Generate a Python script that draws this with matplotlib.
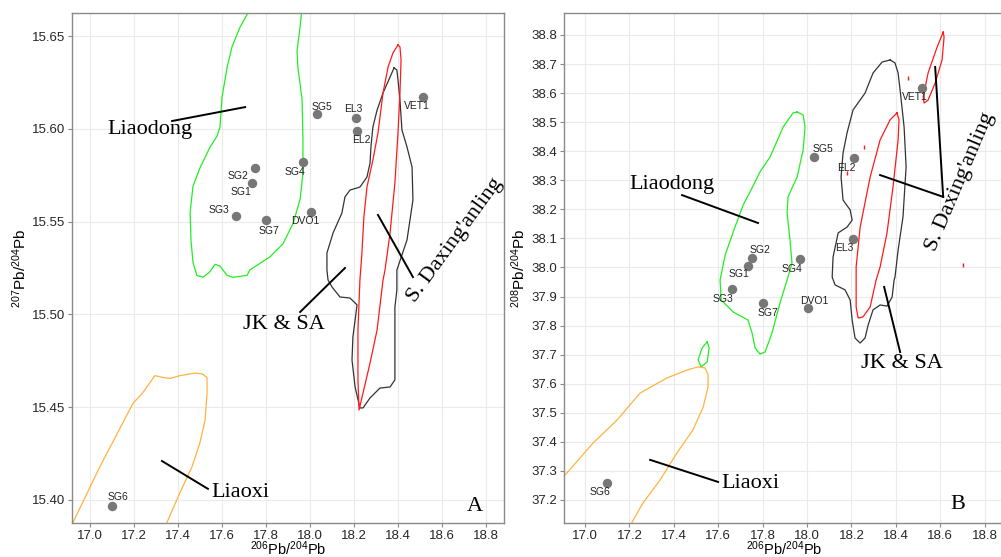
import numpy as np
import matplotlib
matplotlib.use("Agg")
import matplotlib.pyplot as plt

plt.rcParams['font.family'] = ['Liberation Sans', 'DejaVu Sans']
plt.rcParams['mathtext.fontset'] = 'custom'
plt.rcParams['mathtext.rm'] = 'Liberation Sans'
plt.rcParams['mathtext.it'] = 'Liberation Sans:italic'
plt.rcParams['mathtext.bf'] = 'Liberation Sans:bold'

# ---------------- sample data ----------------
samples = ['SG1', 'SG2', 'SG3', 'SG4', 'SG5', 'SG6', 'SG7', 'DVO1', 'EL2', 'EL3', 'VET1']
pb206_204 = [17.735, 17.750, 17.663, 17.968, 18.030, 17.100, 17.800, 18.003, 18.213, 18.207, 18.516]
pb207_204 = [15.571, 15.579, 15.553, 15.582, 15.608, 15.397, 15.551, 15.555, 15.599, 15.606, 15.617]
pb208_204 = [38.005, 38.033, 37.926, 38.029, 38.380, 37.258, 37.878, 37.861, 38.377, 38.098, 38.618]

# label offsets (points) for each sample, panel A and B
offA = {'SG1': (-8, -7), 'SG2': (-12, -6), 'SG3': (-12, 4), 'SG4': (-6, -7), 'SG5': (4, 5),
        'SG6': (4, 6), 'SG7': (2, -8), 'DVO1': (-4, -6.5), 'EL2': (3, -7), 'EL3': (-1.5, 6),
        'VET1': (-5, -6.5)}
offB = {'SG1': (-7, -6), 'SG2': (6, 6), 'SG3': (-6.5, -7), 'SG4': (-6, -7), 'SG5': (6.5, 6),
        'SG6': (-5, -6.5), 'SG7': (4, -7), 'DVO1': (5, 5), 'EL2': (-6, -7), 'EL3': (-6, -6.5),
        'VET1': (-5, -6.5)}

# ---------------- field contours, panel A (206/204 vs 207/204) ----------------
liaodong_A = [(17.718, 15.6624), (17.682, 15.6548), (17.645, 15.644), (17.623, 15.633), (17.600, 15.617),
              (17.591, 15.601), (17.577, 15.596), (17.545, 15.590), (17.500, 15.579), (17.468, 15.569),
              (17.455, 15.555), (17.459, 15.540), (17.468, 15.528), (17.486, 15.521), (17.514, 15.520),
              (17.545, 15.523), (17.568, 15.527), (17.591, 15.526), (17.623, 15.521), (17.650, 15.520),
              (17.714, 15.521), (17.727, 15.524), (17.818, 15.531), (17.877, 15.538), (17.923, 15.549),
              (17.955, 15.562), (17.968, 15.576), (17.968, 15.594), (17.964, 15.616), (17.945, 15.633),
              (17.941, 15.642), (17.955, 15.655), (17.968, 15.670)]
liaoxi_A = [(16.900, 15.378), (16.923, 15.388), (17.045, 15.418), (17.195, 15.452), (17.241, 15.458),
            (17.295, 15.467), (17.332, 15.466), (17.364, 15.4655), (17.409, 15.467), (17.477, 15.4684),
            (17.509, 15.468), (17.532, 15.466), (17.532, 15.4576), (17.523, 15.443), (17.500, 15.431),
            (17.464, 15.418), (17.409, 15.404), (17.350, 15.388), (17.335, 15.378)]
jksa_A = [(18.382, 15.6328), (18.364, 15.6279), (18.332, 15.6193), (18.305, 15.6101), (18.286, 15.601),
          (18.277, 15.5902), (18.273, 15.5816), (18.259, 15.574), (18.227, 15.5686), (18.182, 15.567),
          (18.159, 15.5633), (18.145, 15.5546), (18.105, 15.5439), (18.077, 15.5331), (18.077, 15.5239),
          (18.082, 15.5185), (18.100, 15.5148), (18.136, 15.5094), (18.182, 15.5088), (18.214, 15.5051),
          (18.195, 15.4878), (18.191, 15.4754), (18.205, 15.4609), (18.227, 15.4496), (18.241, 15.4496),
          (18.273, 15.455), (18.318, 15.4603), (18.364, 15.4609), (18.386, 15.4647), (18.386, 15.4824),
          (18.386, 15.504), (18.395, 15.5131), (18.395, 15.5239), (18.441, 15.5401), (18.468, 15.5616),
          (18.464, 15.5794), (18.441, 15.5902), (18.418, 15.5994), (18.409, 15.6155), (18.400, 15.6263),
          (18.395, 15.6317), (18.382, 15.6328)]
sdx_A = [(18.400, 15.6452), (18.377, 15.6408), (18.355, 15.6333), (18.332, 15.6193), (18.309, 15.5977),
         (18.286, 15.5832), (18.259, 15.5686), (18.245, 15.5525), (18.236, 15.5331), (18.227, 15.5185),
         (18.218, 15.4916), (18.218, 15.4647), (18.223, 15.4485), (18.273, 15.4738), (18.305, 15.4916),
         (18.332, 15.5185), (18.341, 15.5239), (18.364, 15.5439), (18.386, 15.5708), (18.400, 15.5977),
         (18.409, 15.6193), (18.414, 15.6371), (18.409, 15.6441), (18.400, 15.6452)]

# ---------------- field contours, panel B (206/204 vs 208/204) ----------------
liaodong_B = [(17.955, 38.535), (17.982, 38.525), (17.991, 38.483), (17.982, 38.404), (17.955, 38.311),
              (17.914, 38.243), (17.910, 38.187), (17.923, 38.095), (17.932, 38.015), (17.910, 37.957),
              (17.878, 37.878), (17.842, 37.775), (17.811, 37.709), (17.788, 37.702), (17.766, 37.723),
              (17.752, 37.775), (17.734, 37.819), (17.667, 37.847), (17.613, 37.888), (17.608, 37.957),
              (17.631, 38.043), (17.667, 38.122), (17.712, 38.215), (17.743, 38.260), (17.788, 38.329),
              (17.833, 38.380), (17.892, 38.483), (17.937, 38.532), (17.955, 38.535)]
liaodong_B_small = [(17.550, 37.744), (17.559, 37.723), (17.550, 37.675), (17.523, 37.658), (17.509, 37.682),
                    (17.527, 37.723), (17.550, 37.744)]
liaoxi_B = [(16.850, 37.240), (16.910, 37.286), (17.036, 37.396), (17.144, 37.475), (17.248, 37.568),
            (17.369, 37.620), (17.459, 37.647), (17.509, 37.658), (17.541, 37.654), (17.554, 37.630),
            (17.554, 37.589), (17.532, 37.520), (17.486, 37.441), (17.414, 37.362), (17.338, 37.269),
            (17.261, 37.190), (17.212, 37.124), (17.195, 37.100)]
jksa_B = [(18.374, 38.714), (18.338, 38.707), (18.297, 38.669), (18.261, 38.600), (18.207, 38.542),
          (18.180, 38.463), (18.162, 38.394), (18.153, 38.311), (18.162, 38.232), (18.194, 38.198),
          (18.203, 38.163), (18.180, 38.139), (18.140, 38.119), (18.117, 38.036), (18.113, 37.967),
          (18.126, 37.940), (18.171, 37.923), (18.194, 37.888), (18.203, 37.819), (18.216, 37.757),
          (18.239, 37.740), (18.261, 37.757), (18.275, 37.802), (18.297, 37.854), (18.329, 37.871),
          (18.360, 37.867), (18.383, 37.898), (18.392, 37.957), (18.396, 37.967), (18.410, 38.060),
          (18.432, 38.174), (18.446, 38.346), (18.437, 38.483), (18.419, 38.611), (18.410, 38.669),
          (18.396, 38.704), (18.374, 38.714)]
sdx_B = [(18.405, 38.532), (18.374, 38.508), (18.329, 38.439), (18.284, 38.311), (18.239, 38.139),
         (18.221, 38.002), (18.221, 37.957), (18.221, 37.864), (18.230, 37.826), (18.252, 37.830),
         (18.284, 37.864), (18.311, 37.957), (18.329, 38.002), (18.360, 38.119), (18.387, 38.277),
         (18.410, 38.439), (18.414, 38.508), (18.405, 38.532)]
sdx_B_small = [(18.613, 38.810), (18.586, 38.759), (18.545, 38.669), (18.523, 38.587), (18.527, 38.566),
               (18.545, 38.576), (18.577, 38.635), (18.608, 38.714), (18.617, 38.793), (18.613, 38.810)]
sdx_B_specks = [(18.455, 38.652), (18.257, 38.415), (18.180, 38.325), (18.703, 38.009)]

# ---------------- annotations ----------------
annA = [("Liaodong", (17.273, 15.5994), 0, [((17.373, 15.6042), (17.705, 15.6117))]),
        ("JK & SA", (17.882, 15.4943), 0, [((17.955, 15.5013), (18.159, 15.525))]),
        ("S. Daxing'anling", (18.660, 15.540), 54, [((18.309, 15.5536), (18.468, 15.5201))]),
        ("Liaoxi", (17.686, 15.4043), 0, [((17.327, 15.421), (17.536, 15.406))]),
        ("A", (18.750, 15.3965), 0, [])]
annB = [("Liaodong", (17.392, 38.284), 0, [((17.437, 38.249), (17.779, 38.153))]),
        ("JK & SA", (18.428, 37.671), 0, [((18.347, 37.933), (18.419, 37.709))]),
        ("S. Daxing'anling", (18.689, 38.294), 67, [((18.329, 38.318), (18.613, 38.243)),
                                                   ((18.577, 38.690), (18.613, 38.243))]),
        ("Liaoxi", (17.743, 37.258), 0, [((17.293, 37.338), (17.599, 37.262))]),
        ("B", (18.680, 37.183), 0, [])]

xticks = [17.0, 17.2, 17.4, 17.6, 17.8, 18.0, 18.2, 18.4, 18.6, 18.8]
yticksA = [15.40, 15.45, 15.50, 15.55, 15.60, 15.65]
yticksB = [37.2, 37.3, 37.4, 37.5, 37.6, 37.7, 37.8, 37.9, 38.0, 38.1, 38.2, 38.3, 38.4, 38.5, 38.6, 38.7, 38.8]

GREEN = '#22ee22'
ORANGE = '#ffb340'
RED = '#ff1a1a'
DARK = '#333333'

W, H = 1001, 557
fig = plt.figure(figsize=(W / 100, H / 100), dpi=100)
axA = fig.add_axes([72 / W, (H - 523) / H, 432 / W, 510 / H])
axB = fig.add_axes([564 / W, (H - 523) / H, 440 / W, 510 / H])


def style(ax, yticks, fmt):
    ax.set_xticks(xticks)
    ax.set_xticklabels([f"{v:.1f}" for v in xticks])
    ax.set_yticks(yticks)
    ax.set_yticklabels([fmt.format(v) for v in yticks])
    ax.grid(True, color='#ebebeb', lw=0.8)
    ax.set_axisbelow(True)
    for s in ax.spines.values():
        s.set_color('#8a8a8a')
        s.set_linewidth(1.0)
    ax.tick_params(colors='#8a8a8a', labelcolor='#262626', labelsize=9.5, length=3, width=0.8, pad=2)
    ax.set_xlabel(r'$^{206}$Pb/$^{204}$Pb', fontsize=10.5, labelpad=-1.5)


def draw_line(ax, pts, color, lw=0.9):
    xs = [p[0] for p in pts]
    ys = [p[1] for p in pts]
    ax.plot(xs, ys, color=color, lw=lw, solid_joinstyle='round', zorder=2)


def points(ax, ys, offs):
    ax.scatter(pb206_204, ys, s=46, color='#777777', zorder=4, linewidths=0)
    for name, x, y in zip(samples, pb206_204, ys):
        ax.annotate(name, (x, y), xytext=offs[name], textcoords='offset points',
                    ha='center', va='center', fontsize=7.5, color='#222222', zorder=5)


def annotations(ax, ann):
    for text, pos, rot, lines in ann:
        ax.text(pos[0], pos[1], text, family=['Liberation Serif'], fontsize=16,
                rotation=rot, ha='center', va='center', rotation_mode='anchor', zorder=6)
        for (a, b) in lines:
            ax.plot([a[0], b[0]], [a[1], b[1]], color='black', lw=1.4, zorder=6)


# Panel A
style(axA, yticksA, "{:.2f}")
axA.set_xlim(16.918, 18.882)
axA.set_ylim(15.3876, 15.6624)
axA.set_ylabel(r'$^{207}$Pb/$^{204}$Pb', fontsize=11, labelpad=2)
draw_line(axA, liaodong_A, GREEN)
draw_line(axA, liaoxi_A, ORANGE)
draw_line(axA, jksa_A, DARK)
draw_line(axA, sdx_A, RED)
points(axA, pb207_204, offA)
annotations(axA, annA)

# Panel B
style(axB, yticksB, "{:.1f}")
axB.set_xlim(16.905, 18.887)
axB.set_ylim(37.1207, 38.8757)
axB.set_ylabel(r'$^{208}$Pb/$^{204}$Pb', fontsize=11, labelpad=2)
draw_line(axB, liaodong_B, GREEN)
draw_line(axB, liaodong_B_small, GREEN)
draw_line(axB, liaoxi_B, ORANGE)
draw_line(axB, jksa_B, DARK)
draw_line(axB, sdx_B, RED)
draw_line(axB, sdx_B_small, RED)
axB.plot([p[0] for p in sdx_B_specks], [p[1] for p in sdx_B_specks], ls='none',
         marker='|', ms=3, mew=1, color=RED, zorder=2)
points(axB, pb208_204, offB)
annotations(axB, annB)

fig.savefig('out.png', dpi=100)
